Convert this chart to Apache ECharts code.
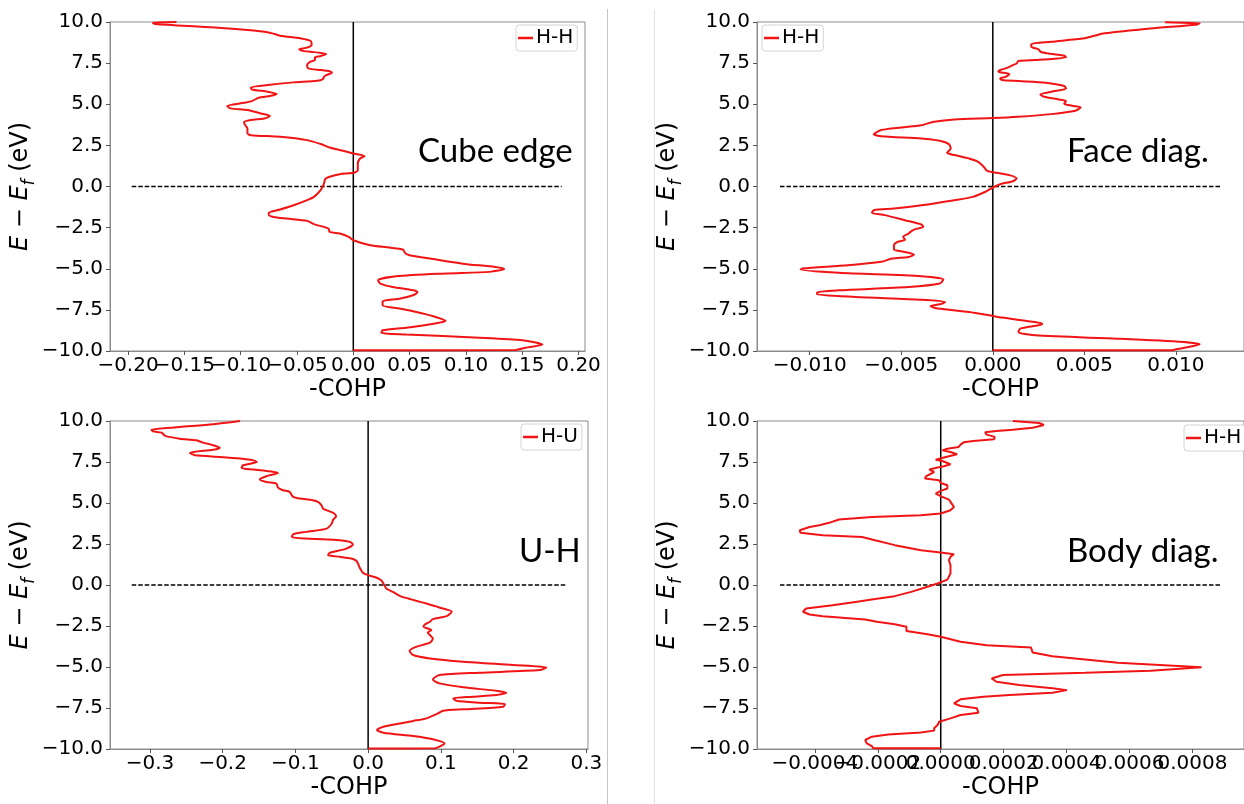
<!DOCTYPE html>
<html>
<head>
<meta charset="utf-8">
<title>-COHP</title>
<script src="https://cdn.jsdelivr.net/npm/echarts@6/dist/echarts.min.js"></script>
<style>
html, body { margin: 0; padding: 0; background: #fff; }
#chart { width: 1244px; height: 804px; }
</style>
</head>
<body>
<div id="chart"></div>
<script>
// [E - Ef (eV), -COHP]
var cubeEdge = [
    [10.00,-0.157],[9.96,-0.178],[9.88,-0.176],[9.66,-0.123],[9.41,-0.079],[9.31,-0.072],[9.17,-0.065],[9.01,-0.047],
    [8.86,-0.038],[8.60,-0.037],[8.44,-0.041],[8.34,-0.048],[8.26,-0.046],[8.19,-0.038],[8.13,-0.030],[8.05,-0.024],
    [7.93,-0.029],[7.85,-0.034],[7.69,-0.034],[7.59,-0.038],[7.38,-0.041],[7.18,-0.040],[7.08,-0.029],[7.02,-0.022],
    [6.92,-0.019],[6.77,-0.024],[6.67,-0.026],[6.53,-0.027],[6.43,-0.032],[6.33,-0.053],[6.17,-0.076],[6.02,-0.091],
    [5.90,-0.090],[5.76,-0.076],[5.62,-0.068],[5.50,-0.074],[5.40,-0.084],[5.19,-0.090],[5.09,-0.097],[4.89,-0.112],
    [4.75,-0.109],[4.65,-0.094],[4.44,-0.082],[4.28,-0.074],[4.14,-0.079],[4.04,-0.091],[3.91,-0.097],[3.73,-0.096],
    [3.53,-0.094],[3.23,-0.094],[3.12,-0.091],[3.02,-0.065],[2.82,-0.041],[2.58,-0.029],[2.37,-0.021],[2.17,-0.009],
    [2.01,0.000],[1.85,0.010],[1.70,0.006],[1.40,0.004],[0.99,0.004],[0.83,0.000],[0.75,-0.012],[0.59,-0.021],
    [0.45,-0.025],[0.18,-0.026],[-0.22,-0.029],[-0.63,-0.035],[-0.83,-0.041],[-1.14,-0.053],[-1.40,-0.065],[-1.60,-0.075],
    [-1.74,-0.075],[-1.85,-0.071],[-1.95,-0.059],[-2.09,-0.041],[-2.29,-0.035],[-2.56,-0.022],[-2.76,-0.021],[-2.86,-0.012],
    [-3.06,-0.004],[-3.27,0.000],[-3.57,0.015],[-3.71,0.032],[-3.83,0.044],[-4.04,0.046],[-4.18,0.050],[-4.38,0.068],
    [-4.69,0.097],[-4.89,0.126],[-5.01,0.134],[-5.19,0.121],[-5.29,0.082],[-5.46,0.038],[-5.70,0.022],[-5.90,0.024],
    [-6.11,0.035],[-6.31,0.053],[-6.43,0.057],[-6.61,0.053],[-6.82,0.041],[-6.98,0.026],[-7.22,0.026],[-7.42,0.041],
    [-7.63,0.056],[-7.89,0.071],[-8.17,0.082],[-8.34,0.071],[-8.58,0.047],[-8.74,0.026],[-8.90,0.025],[-8.99,0.047],
    [-9.19,0.112],[-9.35,0.150],[-9.61,0.168],[-9.80,0.153],[-9.94,0.144],[-9.96,0.000]
];
var faceDiag = [
    [9.98,0.0094],[9.92,0.0113],[9.84,0.0111],[9.61,0.0086],[9.31,0.0061],[9.15,0.0055],[9.01,0.0050],[8.80,0.0032],
    [8.66,0.0021],[8.50,0.0021],[8.34,0.0025],[8.19,0.0026],[8.09,0.0030],[7.95,0.0039],[7.85,0.0040],[7.75,0.0032],
    [7.69,0.0023],[7.63,0.0014],[7.48,0.0013],[7.38,0.0011],[7.18,0.0007],[7.08,0.0004],[6.98,0.0003],[6.84,0.0009],
    [6.67,0.0007],[6.57,0.0004],[6.47,0.0005],[6.41,0.0014],[6.31,0.0029],[6.11,0.0039],[5.96,0.0040],[5.76,0.0032],
    [5.60,0.0026],[5.46,0.0028],[5.29,0.0036],[5.19,0.0040],[5.05,0.0039],[4.95,0.0041],[4.81,0.0048],[4.60,0.0045],
    [4.40,0.0032],[4.24,0.0014],[4.16,0.0000],[4.08,-0.0021],[3.94,-0.0032],[3.73,-0.0039],[3.59,-0.0050],[3.43,-0.0061],
    [3.18,-0.0065],[3.06,-0.0061],[2.92,-0.0039],[2.78,-0.0029],[2.58,-0.0024],[2.31,-0.0023],[2.05,-0.0025],[1.91,-0.0021],
    [1.70,-0.0013],[1.50,-0.0008],[1.20,-0.0005],[0.95,-0.0003],[0.83,0.0002],[0.69,0.0009],[0.49,0.0013],[0.32,0.0011],
    [0.14,0.0004],[-0.06,0.0000],[-0.32,-0.0004],[-0.63,-0.0011],[-0.83,-0.0021],[-1.14,-0.0039],[-1.34,-0.0054],[-1.44,-0.0065],
    [-1.60,-0.0066],[-1.74,-0.0059],[-2.05,-0.0048],[-2.31,-0.0039],[-2.45,-0.0038],[-2.62,-0.0043],[-2.76,-0.0045],[-2.86,-0.0046],
    [-3.06,-0.0049],[-3.23,-0.0048],[-3.37,-0.0052],[-3.57,-0.0054],[-3.83,-0.0054],[-3.98,-0.0048],[-4.14,-0.0043],[-4.28,-0.0046],
    [-4.38,-0.0055],[-4.58,-0.0061],[-4.79,-0.0079],[-4.99,-0.0104],[-5.05,-0.0105],[-5.25,-0.0084],[-5.46,-0.0039],[-5.66,-0.0027],
    [-5.90,-0.0029],[-6.11,-0.0046],[-6.31,-0.0084],[-6.43,-0.0096],[-6.55,-0.0096],[-6.71,-0.0075],[-6.88,-0.0039],[-7.02,-0.0026],
    [-7.16,-0.0029],[-7.28,-0.0034],[-7.42,-0.0030],[-7.63,-0.0013],[-7.83,-0.0002],[-7.97,0.0005],[-8.24,0.0023],[-8.34,0.0027],
    [-8.44,0.0025],[-8.64,0.0015],[-8.84,0.0014],[-9.05,0.0023],[-9.25,0.0068],[-9.45,0.0104],[-9.59,0.0113],[-9.76,0.0107],
    [-9.90,0.0100],[-9.95,0.0098],[-9.96,0.0000]
];
var uH = [
    [10.00,-0.176],[9.80,-0.213],[9.63,-0.259],[9.47,-0.298],[9.37,-0.296],[9.29,-0.284],[9.09,-0.279],[8.92,-0.259],
    [8.82,-0.236],[8.68,-0.227],[8.52,-0.213],[8.36,-0.204],[8.25,-0.213],[8.05,-0.245],[7.91,-0.238],[7.81,-0.204],
    [7.71,-0.176],[7.60,-0.158],[7.50,-0.153],[7.30,-0.172],[7.14,-0.174],[7.04,-0.158],[6.93,-0.135],[6.83,-0.124],
    [6.63,-0.140],[6.43,-0.149],[6.28,-0.140],[6.18,-0.126],[5.94,-0.124],[5.78,-0.117],[5.68,-0.108],[5.37,-0.103],
    [5.27,-0.094],[5.17,-0.076],[5.07,-0.069],[4.86,-0.064],[4.66,-0.062],[4.40,-0.048],[4.19,-0.044],[3.99,-0.048],
    [3.75,-0.050],[3.44,-0.057],[3.24,-0.085],[3.10,-0.103],[2.93,-0.105],[2.83,-0.085],[2.73,-0.039],[2.63,-0.025],
    [2.47,-0.021],[2.22,-0.030],[1.96,-0.053],[1.82,-0.055],[1.72,-0.039],[1.61,-0.023],[1.47,-0.016],[1.31,-0.014],
    [1.00,-0.011],[0.74,-0.007],[0.60,0.000],[0.46,0.011],[0.29,0.018],[0.09,0.021],[-0.21,0.025],[-0.42,0.034],
    [-0.68,0.044],[-0.82,0.055],[-0.96,0.066],[-1.13,0.080],[-1.37,0.098],[-1.63,0.115],[-1.90,0.108],[-2.08,0.089],
    [-2.24,0.085],[-2.41,0.078],[-2.55,0.076],[-2.65,0.082],[-2.75,0.087],[-2.89,0.082],[-3.06,0.085],[-3.26,0.089],
    [-3.52,0.085],[-3.77,0.066],[-4.01,0.057],[-4.27,0.062],[-4.48,0.085],[-4.68,0.131],[-4.88,0.199],[-5.03,0.245],
    [-5.19,0.236],[-5.35,0.153],[-5.49,0.098],[-5.76,0.089],[-6.00,0.098],[-6.24,0.131],[-6.45,0.176],[-6.57,0.190],
    [-6.71,0.176],[-6.81,0.144],[-6.91,0.117],[-7.06,0.121],[-7.18,0.153],[-7.26,0.188],[-7.42,0.186],[-7.58,0.131],
    [-7.67,0.103],[-7.83,0.096],[-8.13,0.080],[-8.29,0.062],[-8.44,0.044],[-8.64,0.021],[-8.84,0.012],[-9.01,0.021],
    [-9.21,0.062],[-9.41,0.089],[-9.66,0.105],[-9.86,0.098],[-9.96,0.092],[-9.97,0.000]
];
var bodyDiag = [
    [10.00,0.000229],[9.88,0.000313],[9.76,0.000328],[9.59,0.000292],[9.47,0.000229],[9.39,0.000177],[9.31,0.000141],[9.17,0.000146],
    [9.03,0.000172],[8.88,0.000169],[8.78,0.000104],[8.70,0.000073],[8.56,0.000063],[8.42,0.000057],[8.31,0.000021],[8.21,0.000005],
    [8.11,0.000031],[7.97,0.000052],[7.85,0.000047],[7.77,0.000010],[7.64,-0.000016],[7.56,0.000005],[7.36,0.000031],[7.24,0.000010],
    [7.16,-0.000010],[7.04,-0.000036],[6.89,-0.000021],[6.63,-0.000047],[6.49,-0.000050],[6.39,-0.000005],[6.22,0.000000],[6.08,0.000021],
    [5.88,0.000021],[5.74,0.000000],[5.57,-0.000016],[5.47,-0.000016],[5.37,0.000005],[5.21,0.000026],[5.07,0.000031],[4.76,0.000042],
    [4.56,0.000031],[4.36,0.000000],[4.25,-0.000063],[4.15,-0.000219],[3.99,-0.000323],[3.79,-0.000355],[3.64,-0.000386],[3.54,-0.000417],
    [3.34,-0.000448],[3.18,-0.000446],[3.04,-0.000375],[2.93,-0.000250],[2.73,-0.000209],[2.43,-0.000146],[2.12,-0.000063],[1.98,0.000000],
    [1.88,0.000042],[1.72,0.000031],[1.51,0.000026],[1.21,0.000031],[0.70,0.000031],[0.33,0.000021],[0.09,-0.000010],[-0.11,-0.000042],
    [-0.42,-0.000094],[-0.68,-0.000146],[-0.86,-0.000209],[-1.03,-0.000271],[-1.23,-0.000344],[-1.43,-0.000428],[-1.63,-0.000438],[-1.80,-0.000417],
    [-1.90,-0.000375],[-2.10,-0.000240],[-2.24,-0.000203],[-2.39,-0.000146],[-2.55,-0.000109],[-2.81,-0.000109],[-3.00,-0.000042],[-3.16,0.000000],
    [-3.46,0.000063],[-3.67,0.000146],[-3.81,0.000287],[-4.11,0.000292],[-4.34,0.000355],[-4.54,0.000459],[-4.74,0.000563],[-5.01,0.000829],
    [-5.23,0.000667],[-5.35,0.000459],[-5.49,0.000198],[-5.70,0.000162],[-5.90,0.000177],[-6.10,0.000250],[-6.30,0.000355],[-6.41,0.000401],
    [-6.57,0.000355],[-6.71,0.000219],[-6.81,0.000136],[-6.97,0.000063],[-7.22,0.000042],[-7.38,0.000063],[-7.52,0.000115],[-7.79,0.000120],
    [-7.93,0.000063],[-8.13,0.000031],[-8.34,-0.000005],[-8.54,-0.000010],[-8.74,-0.000021],[-8.88,-0.000021],[-8.99,-0.000063],[-9.11,-0.000167],
    [-9.25,-0.000219],[-9.45,-0.000240],[-9.66,-0.000235],[-9.82,-0.000219],[-9.96,-0.000214],[-9.96,0.000000]
];

var cubeEdgeTicks = [-0.2, -0.15, -0.1, -0.05, 0, 0.05, 0.1, 0.15, 0.2];
var faceDiagTicks = [-0.01, -0.005, 0, 0.005, 0.01];
var uHTicks = [-0.3, -0.2, -0.1, 0, 0.1, 0.2, 0.3];
var bodyDiagTicks = [-0.0004, -0.0002, 0, 0.0002, 0.0004, 0.0006, 0.0008];

// x extent of each panel and of its dashed Fermi line
var xRanges = [[-0.216, 0.2057], [-0.01288, 0.01372], [-0.3549, 0.3023], [-0.000584, 0.000964]];
var fermiSpans = [[-0.1967, 0.185], [-0.011625, 0.01251], [-0.325, 0.2725], [-0.000511, 0.000894]];
var energyRange = [-10, 10];

var panelTitles = ['Cube edge', 'Face diag.', 'U-H', 'Body diag.'];
var pairNames = ['H-H', 'H-H', 'H-U', 'H-H'];

window.onload = function() {
    drawCohp();
};

function minusFmt(d) {
    return function(v) {
        return v.toFixed(d).replace('-', '\u2212');
    };
}

// every other tick, so labels that touch each other sit on two axes
function everyOther(arr, start) {
    return arr.filter(function(v, k) { return k % 2 === start; });
}

function drawCohp() {
    var myChart = echarts.init(document.getElementById('chart'));

    var curves = [cubeEdge, faceDiag, uH, bodyDiag];
    var ticks = [cubeEdgeTicks, faceDiagTicks, uHTicks, bodyDiagTicks];
    var decimals = [2, 3, 1, 4];
    var grids = [
        { left: 110, top: 22, width: 475, height: 329 },
        { left: 757, top: 22, width: 496, height: 329 },
        { left: 110, top: 421, width: 478, height: 328 },
        { left: 757, top: 421, width: 495, height: 328 }
    ];
    var legendPos = [[516, 25], [762, 25], [521, 424], [1184, 425]];
    var titlePos = [[418, 135], [1067, 135], [519, 535], [1067, 535]];

    var axisGray = '#8c8c8c';
    var labelFont = { fontFamily: 'DejaVu Sans', fontSize: 20, color: '#000' };
    var option = {
        animation: false,
        grid: [],
        xAxis: [],
        yAxis: [],
        legend: [],
        series: [],
        graphic: [
            { type: 'line', shape: { x1: 607.5, y1: 9, x2: 607.5, y2: 804 }, style: { stroke: '#c4c4c4', lineWidth: 1 } },
            { type: 'line', shape: { x1: 654.5, y1: 9, x2: 654.5, y2: 804 }, style: { stroke: '#e2e2e2', lineWidth: 1 } }
        ]
    };
    var extraAxes = [];

    for (var i = 0; i < 4; i++) {
        option.grid.push({
            left: grids[i].left, top: grids[i].top, width: grids[i].width, height: grids[i].height,
            show: true, borderColor: axisGray, borderWidth: 1, backgroundColor: 'transparent'
        });
        option.xAxis.push({
            type: 'value',
            gridIndex: i,
            position: 'bottom',
            min: xRanges[i][0],
            max: xRanges[i][1],
            name: '-COHP',
            nameLocation: 'middle',
            nameGap: 27,
            nameTextStyle: { fontFamily: 'DejaVu Sans', fontSize: 24, color: '#000' },
            axisLine: { onZero: false, lineStyle: { color: axisGray, width: 1 } },
            axisTick: { show: true, customValues: ticks[i], length: 4, lineStyle: { color: '#555' } },
            axisLabel: echarts.util.extend({
                customValues: everyOther(ticks[i], 0), formatter: minusFmt(decimals[i]), margin: 5,
                showMinLabel: true, showMaxLabel: true, hideOverlap: false
            }, labelFont),
            splitLine: { show: false }
        });
        extraAxes.push({
            type: 'value',
            gridIndex: i,
            position: 'bottom',
            min: xRanges[i][0],
            max: xRanges[i][1],
            axisLine: { show: false, onZero: false },
            axisTick: { show: false },
            axisLabel: echarts.util.extend({
                customValues: everyOther(ticks[i], 1), formatter: minusFmt(decimals[i]), margin: 5,
                showMinLabel: true, showMaxLabel: true, hideOverlap: false
            }, labelFont),
            splitLine: { show: false }
        });
        option.yAxis.push({
            type: 'value',
            gridIndex: i,
            min: energyRange[0],
            max: energyRange[1],
            interval: 2.5,
            name: '{i|E} \u2212 {i|E}{s|f} (eV)',
            nameLocation: 'middle',
            nameRotate: 90,
            nameGap: 61,
            nameTextStyle: {
                fontFamily: 'DejaVu Sans', fontSize: 24, color: '#000', lineHeight: 34,
                rich: {
                    i: { fontFamily: 'DejaVu Sans', fontStyle: 'italic', fontSize: 24, lineHeight: 34, color: '#000' },
                    s: { fontFamily: 'DejaVu Sans', fontStyle: 'italic', fontSize: 17, lineHeight: 17, verticalAlign: 'bottom', color: '#000' }
                }
            },
            axisLine: { onZero: false, lineStyle: { color: axisGray, width: 1 } },
            axisTick: { show: true, length: 4, lineStyle: { color: '#555' } },
            axisLabel: echarts.util.extend({
                formatter: minusFmt(1), margin: 7,
                showMinLabel: true, showMaxLabel: true, hideOverlap: false
            }, labelFont),
            splitLine: { show: false }
        });
        option.legend.push({
            left: legendPos[i][0],
            top: legendPos[i][1],
            data: [{ name: pairNames[i], icon: 'rect' }],
            itemWidth: 15,
            itemHeight: 2.5,
            padding: [3, 4, 3, 2],
            borderColor: '#d4d4d4',
            borderWidth: 1,
            borderRadius: 3,
            backgroundColor: '#fff',
            selectedMode: false,
            textStyle: { fontFamily: 'DejaVu Sans', fontSize: 20, color: '#000', padding: [0, 0, 0, -2] }
        });
        // vertical line at -COHP = 0
        option.series.push({
            type: 'line', name: 'zero' + i, xAxisIndex: i, yAxisIndex: i,
            data: [[0, energyRange[0]], [0, energyRange[1]]],
            showSymbol: false, silent: true,
            lineStyle: { color: '#000', width: 1.5 }
        });
        // dashed Fermi level
        option.series.push({
            type: 'line', name: 'fermi' + i, xAxisIndex: i, yAxisIndex: i,
            data: [[fermiSpans[i][0], 0], [fermiSpans[i][1], 0]],
            showSymbol: false, silent: true,
            lineStyle: { color: '#000', width: 1.5, type: [4.5, 2] }
        });
        option.series.push({
            type: 'line', name: pairNames[i], xAxisIndex: i, yAxisIndex: i,
            data: curves[i].map(function(p) { return [p[1], p[0]]; }),
            showSymbol: false,
            smooth: i === 3 ? false : 0.25,
            color: '#f01414',
            lineStyle: { color: '#f01414', width: 2 }
        });
        option.graphic.push({
            type: 'text', left: titlePos[i][0], top: titlePos[i][1], silent: true,
            style: { text: panelTitles[i], font: '33px Lato', fill: '#000' }
        });
    }
    option.xAxis = option.xAxis.concat(extraAxes);

    myChart.setOption(option);
}
</script>
</body>
</html>
